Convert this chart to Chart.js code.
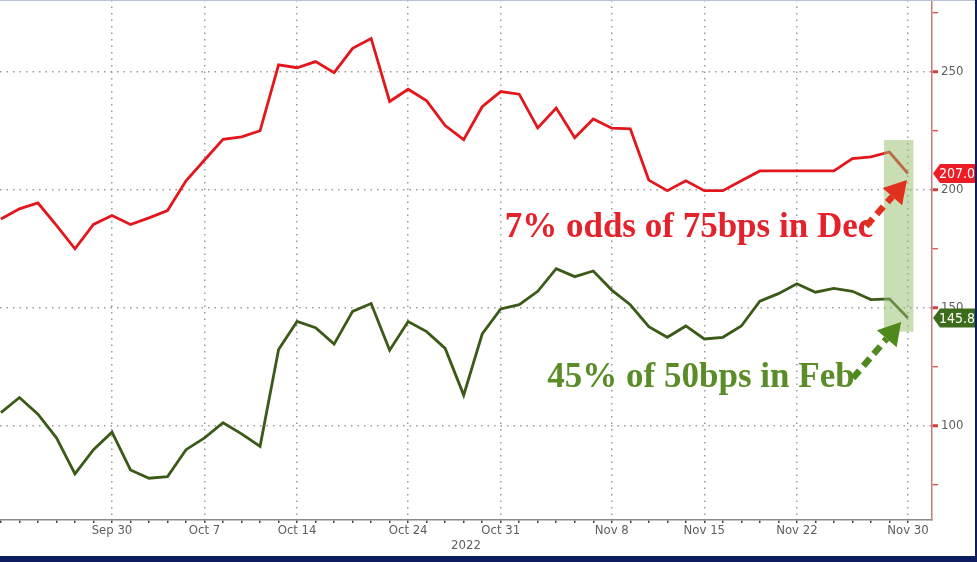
<!DOCTYPE html>
<html>
<head>
<meta charset="utf-8">
<script src="https://cdn.jsdelivr.net/npm/chart.js@4.4.0/dist/chart.umd.min.js"></script>
<style>
  html, body { margin:0; padding:0; background:#0b1d5f; }
  #frame { position:relative; width:977px; height:562px; background:#0b1d5f; overflow:hidden; }
  #plot { position:absolute; left:0; top:0; width:975px; height:556px; background:#fff; }
  #topline { position:absolute; left:0; top:0; width:975px; height:1px; background:#b9c1d9; }
</style>
</head>
<body>
<div id="frame">
  <div id="plot"><canvas id="myChart"></canvas></div>
  <div id="topline"></div>
</div>
<script>
// trading days shown on the x axis (index = position)
var dates = ['Sep 22','Sep 23','Sep 26','Sep 27','Sep 28','Sep 29','Sep 30',
  'Oct 3','Oct 4','Oct 5','Oct 6','Oct 7','Oct 10','Oct 11','Oct 12','Oct 13','Oct 14',
  'Oct 17','Oct 18','Oct 19','Oct 20','Oct 21','Oct 24','Oct 25','Oct 26','Oct 27','Oct 28','Oct 31',
  'Nov 1','Nov 2','Nov 3','Nov 4','Nov 7','Nov 8','Nov 9','Nov 10','Nov 11',
  'Nov 14','Nov 15','Nov 16','Nov 17','Nov 18','Nov 21','Nov 22','Nov 23','Nov 24','Nov 25',
  'Nov 28','Nov 29','Nov 30'];
var shownDates = ['Sep 30','Oct 7','Oct 14','Oct 24','Oct 31','Nov 8','Nov 15','Nov 22','Nov 30'];
var yearLabel = '2022';

// red: Dec hike, green: Feb hike (bps)
var decHike = [187.7,192,194.5,185,175.1,185.4,189.2,185.4,188.2,191.3,
  203.9,212.7,221.5,222.5,225.1,253,251.8,254.4,249.7,260,
  264.2,237.5,242.7,237.8,227.3,221.3,235.3,241.7,240.6,226.3,
  234.7,222.1,230.1,226.2,225.9,204.2,199.7,203.9,199.7,199.7,
  203.9,208.1,208.1,208.1,208.1,208.1,213.3,214,216.1,207.0];
var febHike = [105.7,112.1,105,95,79.7,90,97.4,81.4,77.9,78.6,
  90,95,101.4,96.7,91.4,132.4,144.3,141.7,134.7,148.6,
  151.9,132.1,144.3,140,132.9,113.1,139,149.6,151.4,157.1,
  166.7,163.3,165.7,157.6,151.4,142.1,137.6,142.4,136.9,137.6,
  142.4,152.9,156.1,160.3,156.7,158.3,157.1,153.6,153.9,145.8];

var noteDec = '7% odds of 75bps in Dec';
var noteFeb = '45% of 50bps in Feb';

const RED = '#e3161c';
const GREEN = '#3b5a18';
const tickFont = {family: "'DejaVu Sans Condensed', 'Liberation Sans Narrow', 'Liberation Sans', sans-serif", size: 13};

// annotations placed in data space (x = day index, y = bps)
const notes = [
  {text: noteDec, x: 37.17, y: 180.1, color: '#e3222b', arrowColor: '#e0311f', from: [46.74, 184.7], to: [48.95, 204.2]},
  {text: noteFeb, x: 37.82, y: 116.5, color: '#5a8c28', arrowColor: '#4f8a1e', from: [46.03, 120.3], to: [48.63, 144.1]}
];
const highlight = {x0: 47.7, x1: 49.3, y0: 140, y1: 221.2};

function drawArrow(ctx, x1, y1, x2, y2, color){
  var a = Math.atan2(y2-y1, x2-x1);
  var head = 22, half = 13;
  var bx = x2 - head*Math.cos(a), by = y2 - head*Math.sin(a);
  ctx.save();
  ctx.strokeStyle = color;
  ctx.lineWidth = 6.5;
  ctx.setLineDash([10,6]);
  ctx.beginPath(); ctx.moveTo(x1,y1); ctx.lineTo(bx,by); ctx.stroke();
  ctx.setLineDash([]);
  ctx.fillStyle = color;
  ctx.beginPath();
  ctx.moveTo(x2,y2);
  ctx.lineTo(bx + half*Math.sin(a), by - half*Math.cos(a));
  ctx.lineTo(bx - half*Math.sin(a), by + half*Math.cos(a));
  ctx.closePath(); ctx.fill();
  ctx.restore();
}

const notesPlugin = {
  id: 'notes',
  afterDatasetsDraw(chart){
    const ctx = chart.ctx, xs = chart.scales.x, ys = chart.scales.y;
    // green shaded box over the last days
    ctx.save();
    ctx.fillStyle = 'rgba(150,190,110,0.5)';
    var l = xs.getPixelForValue(highlight.x0), r = xs.getPixelForValue(highlight.x1);
    var t = ys.getPixelForValue(highlight.y1), b = ys.getPixelForValue(highlight.y0);
    ctx.fillRect(l, t, r-l, b-t);
    ctx.restore();
    notes.forEach(n => {
      ctx.save();
      ctx.font = "bold 35px 'Liberation Serif', 'DejaVu Serif', serif";
      ctx.fillStyle = n.color;
      ctx.textAlign = 'center';
      ctx.textBaseline = 'alphabetic';
      ctx.fillText(n.text, xs.getPixelForValue(n.x), ys.getPixelForValue(n.y));
      ctx.restore();
      drawArrow(ctx, xs.getPixelForValue(n.from[0]), ys.getPixelForValue(n.from[1]),
        xs.getPixelForValue(n.to[0]), ys.getPixelForValue(n.to[1]), n.arrowColor);
    });
  }
};

// last-value badges on the right axis
const badgePlugin = {
  id: 'badges',
  afterDraw(chart){
    const ctx = chart.ctx, ys = chart.scales.y;
    const x0 = chart.chartArea.right + 1;
    const colors = ['#ee1c24', '#3c6b1c'];
    chart.data.datasets.forEach((ds, i) => {
      var v = ds.data[ds.data.length-1].y;
      var y = ys.getPixelForValue(v);
      ctx.save();
      ctx.fillStyle = colors[i];
      ctx.beginPath();
      ctx.moveTo(x0, y);
      ctx.lineTo(x0+7, y-9.5);
      ctx.lineTo(chart.width+2, y-9.5);
      ctx.lineTo(chart.width+2, y+9.5);
      ctx.lineTo(x0+7, y+9.5);
      ctx.closePath();
      ctx.fill();
      ctx.fillStyle = '#fff';
      ctx.font = "14px 'DejaVu Sans Condensed', 'Liberation Sans', sans-serif";
      ctx.textBaseline = 'middle';
      ctx.fillText(v.toFixed(1), x0+6, y+1);
      ctx.restore();
    });
  }
};

var ctx = document.getElementById('myChart');
const config = {
  type: 'line',
  data: {
    datasets: [
      {label: 'Dec', data: decHike.map((v,i) => ({x: i, y: v})), borderColor: RED, borderWidth: 2.8, pointRadius: 0, tension: 0},
      {label: 'Feb', data: febHike.map((v,i) => ({x: i, y: v})), borderColor: GREEN, borderWidth: 2.8, pointRadius: 0, tension: 0}
    ]
  },
  options: {
    responsive: true,
    maintainAspectRatio: false,
    animation: false,
    layout: {padding: 0},
    plugins: {legend: {display: false}, tooltip: {enabled: false}},
    scales: {
      x: {
        type: 'linear',
        min: -0.05,
        max: 50.3,
        afterBuildTicks: s => { s.ticks = dates.map((d,i) => ({value: i})); },
        afterFit: s => { s.height = 36; s.paddingLeft = 0; s.paddingRight = 0; },
        ticks: {
          autoSkip: false, maxRotation: 0, minRotation: 0, padding: 0,
          color: '#5e5e5e', font: tickFont,
          callback: v => shownDates.includes(dates[v]) ? dates[v] : ''
        },
        grid: {
          color: c => (c.tick && shownDates.includes(dates[c.tick.value])) ? '#9a9a9a' : 'transparent',
          lineWidth: 1.5,
          tickColor: '#444',
          tickLength: 3,
          tickWidth: 1.5
        },
        border: {display: true, color: '#8a8a8a', width: 1.5, dash: [1.5, 5]},
        title: {display: true, text: yearLabel, color: '#5e5e5e', font: tickFont, padding: {top: 0, bottom: 3}}
      },
      y: {
        position: 'right',
        min: 60.2,
        max: 280.5,
        afterFit: s => { s.width = 43; s.paddingTop = 0; s.paddingBottom = 0; },
        ticks: {
          stepSize: 25, includeBounds: false, padding: 3,
          color: '#5e5e5e', font: tickFont,
          callback: v => v % 50 === 0 ? String(v) : ''
        },
        grid: {
          color: c => (c.tick && c.tick.value % 50 === 0) ? '#9a9a9a' : 'transparent',
          lineWidth: 1.5,
          tickColor: '#d04040',
          tickLength: 6,
          tickWidth: c => (c.tick && c.tick.value % 50 === 0) ? 3 : 1.2
        },
        border: {display: true, color: '#c47a7a', width: 1.5, dash: [1.5, 5]}
      }
    }
  },
  plugins: [notesPlugin, badgePlugin]
};

var chart = new Chart(ctx, config);
</script>
</body>
</html>
